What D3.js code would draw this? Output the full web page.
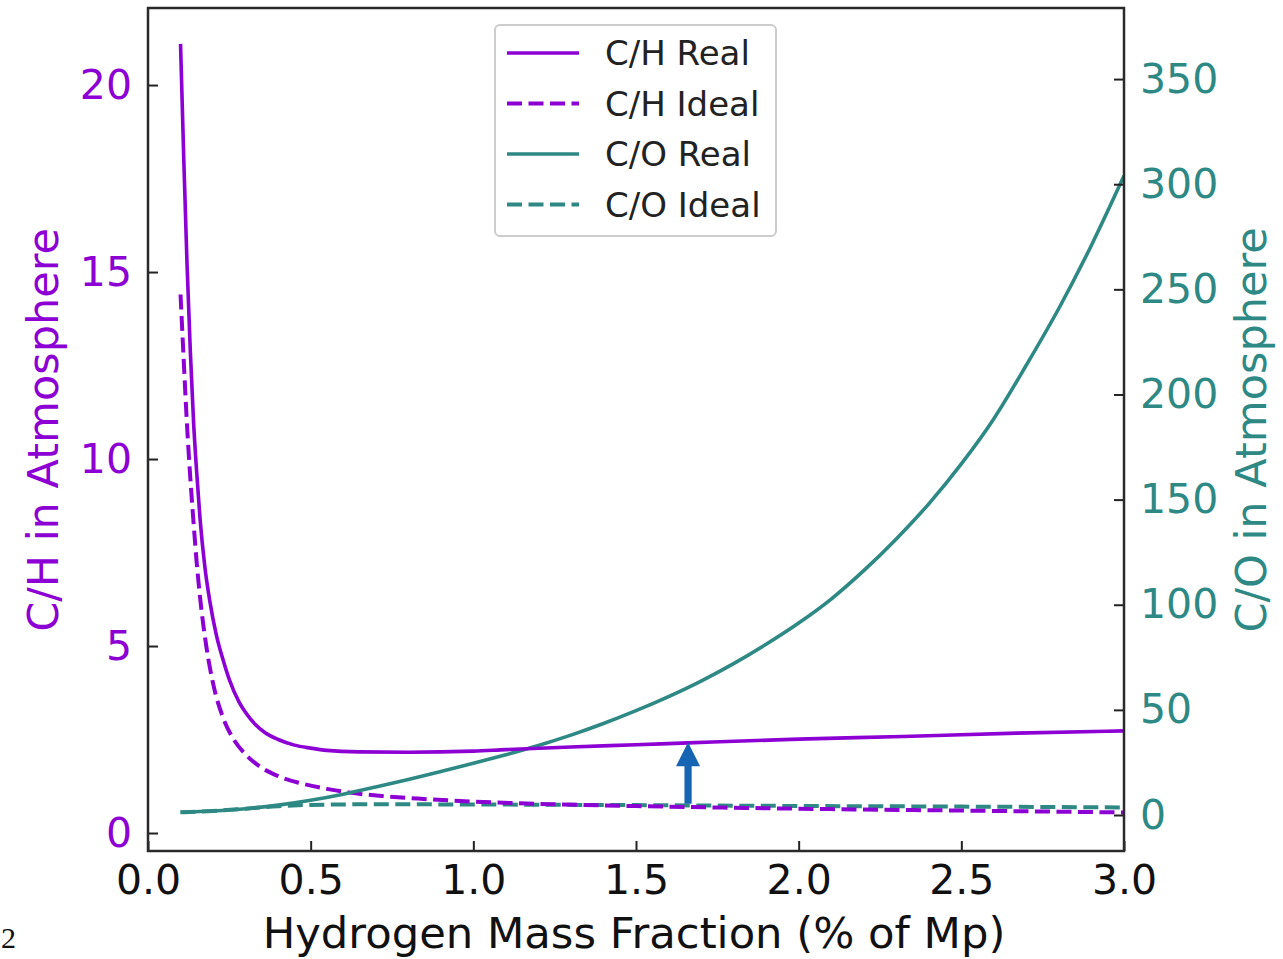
<!DOCTYPE html>
<html>
<head>
<meta charset="utf-8">
<script src="https://cdn.jsdelivr.net/npm/d3@7"></script>
<style>
  html, body { margin: 0; padding: 0; background: #fff; }
  svg { display: block; font-family: "DejaVu Sans", sans-serif; }
</style>
</head>
<body>
<svg id="chart" width="1283" height="959"></svg>
<script>
// ---- data ----
const chRealX = [0.10, 0.11, 0.12, 0.13, 0.14, 0.15, 0.16, 0.175, 0.19, 0.21, 0.23, 0.25, 0.28, 0.30, 0.33, 0.36, 0.40, 0.45, 0.50, 0.55, 0.65, 0.80, 1.00, 1.10, 1.30, 1.50, 1.66, 2.00, 2.32, 2.67, 3.00];
const chRealY = [21.1, 18.0, 15.2, 12.9, 11.0, 9.6, 8.4, 7.1, 6.2, 5.3, 4.65, 4.1, 3.5, 3.22, 2.9, 2.68, 2.5, 2.35, 2.27, 2.21, 2.17, 2.16, 2.19, 2.23, 2.30, 2.36, 2.41, 2.51, 2.58, 2.67, 2.73];

const chIdealX = [0.10, 0.11, 0.12, 0.13, 0.14, 0.15, 0.16, 0.18, 0.20, 0.23, 0.26, 0.30, 0.34, 0.40, 0.47, 0.55, 0.62, 0.72, 0.83, 1.03, 1.24, 1.50, 2.00, 2.50, 3.00];
const chIdealY = [14.4, 12.6, 10.9, 9.5, 8.3, 7.2, 6.3, 4.95, 4.0, 3.1, 2.55, 2.1, 1.8, 1.52, 1.33, 1.18, 1.08, 0.99, 0.92, 0.83, 0.77, 0.72, 0.65, 0.60, 0.55];

const coRealX = [0.1, 0.2, 0.3, 0.4, 0.5, 0.6, 0.7, 0.8, 0.9, 1.0, 1.1, 1.2, 1.3, 1.4, 1.5, 1.6, 1.7, 1.8, 1.9, 2.0, 2.1, 2.2, 2.3, 2.4, 2.5, 2.6, 2.7, 2.8, 2.9, 3.0];
const coRealY = [1.3, 1.9, 3.0, 4.7, 7.0, 9.9, 13.3, 16.9, 20.7, 24.6, 28.7, 33.1, 38.0, 43.5, 49.6, 56.3, 63.7, 72.0, 81.2, 91.3, 102.7, 116.2, 131.3, 148, 167, 188.5, 214, 241, 271, 304];

const coIdealX = [0.10, 0.20, 0.30, 0.40, 0.50, 0.70, 1.00, 1.50, 2.00, 2.50, 3.00];
const coIdealY = [1.3, 1.9, 3.0, 4.2, 4.8, 5.1, 5.0, 4.7, 4.3, 4.0, 3.6];

const xTicks = [0.0, 0.5, 1.0, 1.5, 2.0, 2.5, 3.0];
const leftTicks = [0, 5, 10, 15, 20];
const rightTicks = [0, 50, 100, 150, 200, 250, 300, 350];

const legendLabels = ["C/H Real", "C/H Ideal", "C/O Real", "C/O Ideal"];

// arrow annotation (data units: x, from / to on the C/H axis)
const arrowX = 1.66, arrowFrom = 0.78, arrowTo = 2.43;

// ---- layout ----
const purple = "#8c00d4";
const teal = "#2e8985";
const L = 148, R = 1124, T = 8, B = 851;

const svg = d3.select("#chart");

const x = d3.scaleLinear().domain([0, 3]).range([L, R]);
const yL = d3.scaleLinear().domain([-0.481, 22.06]).range([B, T]);
const yR = d3.scaleLinear().domain([-17.12, 383.8]).range([B, T]);

function series(xs, ys) { return xs.map((v, i) => [v, ys[i]]); }

const lineL = d3.line().x(d => x(d[0])).y(d => yL(d[1])).curve(d3.curveMonotoneX);
const lineR = d3.line().x(d => x(d[0])).y(d => yR(d[1])).curve(d3.curveMonotoneX);

const plot = svg.append("g");
plot.append("clipPath").attr("id", "clip").append("rect")
  .attr("x", L).attr("y", T).attr("width", R - L).attr("height", B - T);
const lines = plot.append("g").attr("clip-path", "url(#clip)");

lines.append("path").datum(series(coIdealX, coIdealY)).attr("d", lineR)
  .attr("fill", "none").attr("stroke", teal).attr("stroke-width", 4).attr("stroke-dasharray", "15,6.5");
lines.append("path").datum(series(chIdealX, chIdealY)).attr("d", lineL)
  .attr("fill", "none").attr("stroke", purple).attr("stroke-width", 4).attr("stroke-dasharray", "15,6.5");
lines.append("path").datum(series(coRealX, coRealY)).attr("d", lineR)
  .attr("fill", "none").attr("stroke", teal).attr("stroke-width", 3.6);
lines.append("path").datum(series(chRealX, chRealY)).attr("d", lineL)
  .attr("fill", "none").attr("stroke", purple).attr("stroke-width", 3.6);

// arrow
const ax = x(arrowX), ay0 = yL(arrowFrom), ay1 = yL(arrowTo);
const headH = 24, headW = 12, shaftW = 3.6;
lines.append("path")
  .attr("d", `M${ax - shaftW},${ay0} L${ax - shaftW},${ay1 + headH} L${ax - headW},${ay1 + headH} L${ax},${ay1} L${ax + headW},${ay1 + headH} L${ax + shaftW},${ay1 + headH} L${ax + shaftW},${ay0} Z`)
  .attr("fill", "#1565b3");

// axes
const fs = 41;
const gx = svg.append("g").attr("transform", `translate(0,${B})`)
  .call(d3.axisBottom(x).tickValues(xTicks).tickFormat(d3.format(".1f")).tickSize(-10).tickSizeOuter(0).tickPadding(14));
const gl = svg.append("g").attr("transform", `translate(${L},0)`)
  .call(d3.axisLeft(yL).tickValues(leftTicks).tickFormat(d3.format("d")).tickSize(-10).tickSizeOuter(0).tickPadding(16));
const gr = svg.append("g").attr("transform", `translate(${R},0)`)
  .call(d3.axisRight(yR).tickValues(rightTicks).tickFormat(d3.format("d")).tickSize(-10).tickSizeOuter(0).tickPadding(16));

[gx, gl, gr].forEach(g => {
  g.select(".domain").remove();
  g.selectAll(".tick line").attr("stroke", "#222").attr("stroke-width", 2);
  g.selectAll(".tick text").attr("font-size", fs).attr("font-family", "DejaVu Sans");
});
gx.selectAll(".tick text").attr("fill", "#111");
gl.selectAll(".tick text").attr("fill", purple);
gr.selectAll(".tick text").attr("fill", teal);

// frame
svg.append("rect").attr("x", L).attr("y", T).attr("width", R - L).attr("height", B - T)
  .attr("fill", "none").attr("stroke", "#2a2a2a").attr("stroke-width", 2.5);

// axis labels
svg.append("text").attr("x", 634).attr("y", 948).attr("text-anchor", "middle")
  .attr("font-size", 43.3).attr("fill", "#111").text("Hydrogen Mass Fraction (% of Mp)");
svg.append("text").attr("transform", "translate(58,430) rotate(-90)").attr("text-anchor", "middle")
  .attr("font-size", 43).attr("fill", purple).text("C/H in Atmosphere");
svg.append("text").attr("transform", "translate(1266,430) rotate(-90)").attr("text-anchor", "middle")
  .attr("font-size", 43).attr("fill", teal).text("C/O in Atmosphere");

// legend
const lg = svg.append("g");
lg.append("rect").attr("x", 495).attr("y", 25).attr("width", 281).attr("height", 211).attr("rx", 5)
  .attr("fill", "#fff").attr("fill-opacity", 0.9).attr("stroke", "#cccccc").attr("stroke-width", 2);
const legStyles = [
  { c: purple, dash: null },
  { c: purple, dash: "15,6.5" },
  { c: teal, dash: null },
  { c: teal, dash: "15,6.5" }
];
legendLabels.forEach((lab, i) => {
  const yy = 53 + i * 50.5;
  const ln = lg.append("line").attr("x1", 507).attr("x2", 579).attr("y1", yy).attr("y2", yy)
    .attr("stroke", legStyles[i].c).attr("stroke-width", legStyles[i].dash ? 4 : 3.6);
  if (legStyles[i].dash) ln.attr("stroke-dasharray", legStyles[i].dash);
  lg.append("text").attr("x", 605).attr("y", yy).attr("dy", "0.36em").attr("font-size", 34)
    .attr("fill", "#222").text(lab);
});

// stray glyph at bottom-left of the source image
svg.append("text").attr("x", 1).attr("y", 948).attr("font-size", 30)
  .attr("font-family", "Liberation Serif").attr("fill", "#111").text("2");
</script>
</body>
</html>
